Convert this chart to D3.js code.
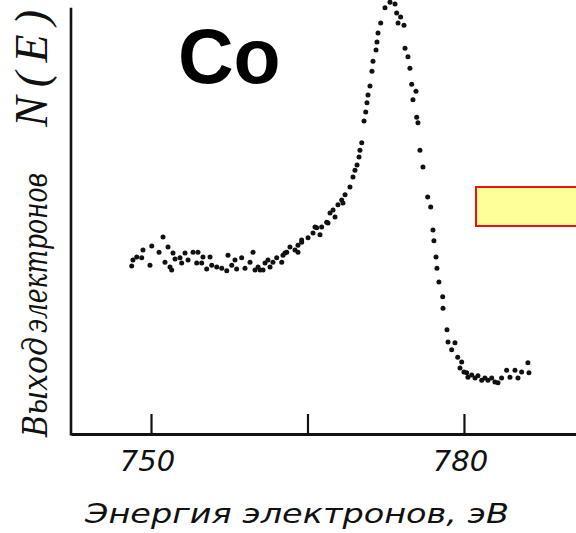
<!DOCTYPE html>
<html>
<head>
<meta charset="utf-8">
<script src="https://cdn.jsdelivr.net/npm/d3@7/dist/d3.min.js"></script>
<style>
html,body{margin:0;padding:0;background:#fff;}
svg{display:block;}
</style>
</head>
<body>
<svg id="chart" width="576" height="533"></svg>
<script>
// Energy (eV) of each measured point
const energy = [
748.15,748.27,748.63,749.11,749.23,749.90,750.07,750.77,751.15,751.34,751.63,751.82,751.98,752.11,752.30,752.78,752.94,753.26,753.55,754.03,754.38,754.50,754.86,754.98,755.34,755.66,755.82,756.30,756.78,757.26,757.38,757.74,758.05,758.21,758.69,759.01,759.49,759.78,759.97,760.26,760.45,760.74,760.93,761.21,761.41,761.69,762.05,762.53,762.65,762.84,763.01,763.32,763.80,764.09,764.09,764.44,764.44,765.05,765.53,765.72,765.88,766.20,766.36,766.84,766.97,
767.16,767.45,767.64,767.92,768.28,768.40,768.60,769.07,769.36,769.55,769.75,769.94,770.03,770.20,770.42,770.58,770.70,770.80,770.99,771.18,771.28,771.57,771.66,771.76,772.02,772.43,772.91,773.39,773.55,773.68,773.93,774.25,774.35,774.63,774.82,774.99,775.11,775.40,775.47,775.59,775.78,776.07,776.52,776.81,777.03,777.12,777.32,777.41,777.60,777.96,777.99,778.37,778.47,778.82,779.14,779.40,779.62,779.78,780.00,780.26,780.38,780.74,781.06,781.34,781.70,782.01,782.30,782.66,782.97,783.26,783.61,784.09,784.41,784.89,785.18,785.53,786.13,786.23
];
// Electron yield N(E), arbitrary units
const yieldNE = [
38.7,40.1,40.8,40.6,42.4,38.9,43.3,41.9,45.4,39.6,43.1,38.5,37.8,41.7,40.3,40.6,39.4,41.7,40.1,41.9,39.4,41.9,39.4,40.8,38.0,40.8,38.9,38.5,38.2,37.6,41.2,38.9,40.1,38.0,40.6,38.2,39.6,41.9,37.8,38.5,37.8,37.8,39.4,40.1,38.5,39.6,40.6,39.6,41.2,41.7,41.9,43.1,42.4,43.5,41.9,44.2,44.7,45.2,46.3,47.7,47.5,45.9,47.7,48.8,48.6,
50.9,51.6,50.0,52.8,53.9,53.2,55.1,56.9,59.2,60.8,62.0,63.8,65.4,67.1,72.1,74.2,76.3,78.1,80.2,83.6,85.9,88.5,90.3,92.4,94.7,98.2,99.5,99.1,97.0,94.7,96.1,94.2,88.9,86.9,84.3,80.6,77.0,79.0,73.0,71.7,65.4,61.5,54.6,52.3,47.0,44.5,40.8,38.2,35.0,31.6,29.0,24.0,21.2,19.4,21.0,17.7,15.2,16.6,14.3,14.1,13.1,13.6,12.9,13.4,12.4,12.9,12.4,12.9,12.0,11.8,12.9,14.7,13.1,14.7,12.9,14.3,16.4,14.1
];
const tickValues = [750, 765, 780];
const tickLabels = {750: "750", 765: "", 780: "780"};
const elementLabel = "Co";
const xTitle = "Энергия электронов, эВ";
const yTitleParts = ["Выход", "электронов", "N(E)"];

const svg = d3.select("#chart");
const x = d3.scaleLinear().domain([742.33, 790.74]).range([71, 576]);
const y = d3.scaleLinear().domain([0, 100]).range([434, 0]);

// x axis
const xAxis = svg.append("g")
  .attr("transform", "translate(0,434)")
  .call(d3.axisBottom(x).tickValues(tickValues).tickSize(-20).tickSizeOuter(0)
        .tickFormat(d => tickLabels[d]));
xAxis.select(".domain").attr("stroke", "#111").attr("stroke-width", 3);
xAxis.selectAll(".tick line").attr("stroke", "#111").attr("stroke-width", 2.2);
xAxis.selectAll(".tick text")
  .attr("y", 37).attr("dy", 0).attr("x", -4)
  .attr("fill", "#111")
  .style("font-family", "'DejaVu Sans', sans-serif")
  .style("font-style", "italic")
  .style("font-size", "29px");

// y axis line
svg.append("line")
  .attr("x1", 71).attr("x2", 71)
  .attr("y1", y(0) + 1.5).attr("y2", y(98.2))
  .attr("stroke", "#111").attr("stroke-width", 2.6);

// points
const pts = energy.map((e, i) => ({e, v: yieldNE[i]}));
svg.append("g").selectAll("circle").data(pts).join("circle")
  .attr("cx", d => x(d.e))
  .attr("cy", d => y(d.v))
  .attr("r", 2.5)
  .attr("fill", "#111");

// element label
svg.append("text")
  .attr("x", 178).attr("y", 83)
  .attr("fill", "#000")
  .style("font-family", "'Liberation Sans', Arial, sans-serif")
  .style("font-weight", "bold")
  .style("font-size", "77px")
  .text(elementLabel);

// yellow box
svg.append("rect")
  .attr("x", 476).attr("y", 187).attr("width", 110).attr("height", 39)
  .attr("fill", "#ffff99").attr("stroke", "#ee1111").attr("stroke-width", 2);

// x title
svg.append("text")
  .attr("x", 85).attr("y", 523)
  .attr("textLength", 424).attr("lengthAdjust", "spacingAndGlyphs")
  .attr("fill", "#111")
  .style("font-family", "'DejaVu Sans', sans-serif")
  .style("font-style", "italic")
  .style("font-size", "27px")
  .text(xTitle);

// y title (rotated)
const yStarts = [437, 333, 127];
const yLens = [100, 160, 117];
const ySizes = [34, 34, 46];
yTitleParts.forEach((t, i) => {
  svg.append("text")
    .attr("transform", "rotate(-90)")
    .attr("x", -yStarts[i]).attr("y", 47)
    .attr("textLength", yLens[i]).attr("lengthAdjust", i === 2 ? "spacing" : "spacingAndGlyphs")
    .attr("fill", "#111")
    .style("font-family", i === 2 ? "'Liberation Serif', serif" : "'DejaVu Serif Condensed', 'DejaVu Serif', serif")
    .style("font-stretch", "condensed")
    .style("font-style", "italic")
    .style("font-size", ySizes[i] + "px")
    .text(t);
});
</script>
</body>
</html>
